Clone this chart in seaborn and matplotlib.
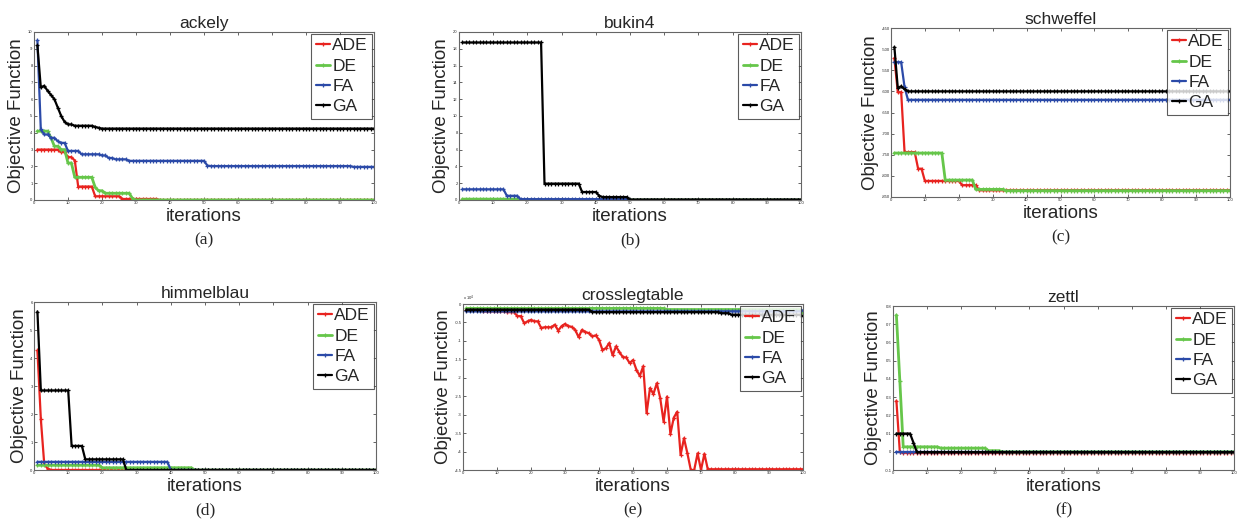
import matplotlib
matplotlib.use("Agg")
import matplotlib.pyplot as plt
import seaborn as sns
import pandas as pd

sns.set_theme(style="white")
plt.rcParams['font.family'] = ['Liberation Sans', 'DejaVu Sans']

iters = list(range(1, 101))
algos = ["ADE", "DE", "FA", "GA"]
colors = {"ADE": "#e8231f", "DE": "#66c64a", "FA": "#2b4aa8", "GA": "#000000"}
widths = {"ADE": 1.6, "DE": 2.0, "FA": 1.6, "GA": 1.6}

# each series given as (first iteration, value) pairs, value held until the next pair
ackely_ADE = [(1, 3.0), (8, 2.85), (10, 2.55), (12, 2.35), (13, 0.8), (18, 0.22), (26, 0.06), (37, 0.0)]
ackely_DE = [(1, 4.1), (5, 3.7), (6, 3.2), (8, 3.0), (10, 2.2), (12, 1.35), (18, 0.75), (19, 0.55),
             (21, 0.4), (29, 0.08), (30, 0.0)]
ackely_FA = [(1, 9.5), (2, 4.2), (3, 3.9), (5, 3.7), (7, 3.5), (8, 3.4), (10, 2.92), (14, 2.72),
             (20, 2.65), (22, 2.5), (24, 2.42), (28, 2.33), (51, 2.05), (52, 2.02), (94, 1.97)]
ackely_GA = [(1, 9.2), (2, 6.7), (3, 6.8), (4, 6.5), (5, 6.25), (6, 6.0), (7, 5.5), (8, 5.0), (9, 4.65),
             (10, 4.5), (12, 4.42), (18, 4.35), (19, 4.3), (20, 4.25)]

bukin4_ADE = [(1, 0.0)]
bukin4_DE = [(1, 0.1), (18, 0.0)]
bukin4_FA = [(1, 1.27), (14, 0.5), (18, 0.1), (50, 0.0)]
bukin4_GA = [(1, 18.75), (25, 1.95), (36, 0.95), (41, 0.5), (42, 0.35), (50, 0.05)]

schweffel_ADE = [(1, -521), (2, -602), (4, -744), (8, -783), (10, -812), (21, -822), (26, -834)]
schweffel_DE = [(1, -746), (16, -810), (25, -832), (34, -835)]
schweffel_FA = [(1, -531), (4, -590), (5, -620)]
schweffel_GA = [(1, -495), (2, -592), (3, -588), (4, -595), (5, -600)]

himmel_ADE = [(1, 4.27), (2, 1.82), (3, 0.2), (4, 0.05), (5, 0.0)]
himmel_DE = [(1, 0.17), (20, 0.08), (47, 0.0)]
himmel_FA = [(1, 0.29), (40, 0.0)]
himmel_GA = [(1, 5.66), (2, 2.84), (11, 0.86), (15, 0.38), (27, 0.0)]

# crosslegtable ADE, iterations 1..72 read point by point, then held
cross_ADE_pts = [-0.15, -0.15, -0.15, -0.15, -0.15, -0.2, -0.2, -0.2, -0.2, -0.2,
                 -0.2, -0.2, -0.22, -0.22, -0.22, -0.33, -0.33, -0.52, -0.47, -0.43,
                 -0.47, -0.47, -0.65, -0.63, -0.63, -0.63, -0.56, -0.72, -0.6, -0.54,
                 -0.6, -0.62, -0.7, -0.9, -0.7, -0.76, -0.79, -0.88, -0.85, -0.97,
                 -1.24, -1.2, -1.06, -1.39, -1.15, -1.3, -1.44, -1.45, -1.6, -1.52,
                 -1.78, -1.95, -1.69, -2.96, -2.28, -2.44, -2.15, -2.55, -3.19, -2.51,
                 -3.52, -3.08, -2.92, -4.09, -3.64, -4.05, -4.5, -4.5, -4.05, -4.5,
                 -4.06, -4.48]
cross_ADE = [(i + 1, v) for i, v in enumerate(cross_ADE_pts)]
cross_DE = [(1, -0.12), (60, -0.15), (100, -0.25)]
cross_FA = [(1, -0.2), (100, -0.17)]
cross_GA = [(1, -0.15), (38, -0.22), (76, -0.25), (79, -0.29), (100, -0.33)]

zettl_ADE = [(1, 0.28), (2, 0.0), (3, -0.004)]
zettl_DE = [(1, 0.75), (2, 0.39), (3, 0.027), (14, 0.02), (28, 0.006), (32, 0.0)]
zettl_FA = [(1, 0.0)]
zettl_GA = [(1, 0.1), (6, 0.05), (7, -0.002)]


def steps(segs):
    ends = [s for s, _ in segs][1:] + [101]
    out = []
    for (s, v), e in zip(segs, ends):
        out += [v] * (e - s)
    return out


panels = [
    ("ackely", "(a)", [ackely_ADE, ackely_DE, ackely_FA, ackely_GA], (0, 10), 1),
    ("bukin4", "(b)", [bukin4_ADE, bukin4_DE, bukin4_FA, bukin4_GA], (0, 20), 2),
    ("schweffel", "(c)", [schweffel_ADE, schweffel_DE, schweffel_FA, schweffel_GA], (-850, -450), 50),
    ("himmelblau", "(d)", [himmel_ADE, himmel_DE, himmel_FA, himmel_GA], (0, 6), 1),
    ("crosslegtable", "(e)", [cross_ADE, cross_DE, cross_FA, cross_GA], (-4.5, 0), 0.5),
    ("zettl", "(f)", [zettl_ADE, zettl_DE, zettl_FA, zettl_GA], (-0.1, 0.8), 0.1),
]

# axes boxes in pixels: left, top, right, bottom
boxes = [(34, 32, 374, 200), (459, 32, 801, 200), (891, 28, 1230, 197),
         (34, 302, 376, 470), (463, 304, 803, 470), (893, 306, 1234, 470)]

W, H = 1240, 523
fig = plt.figure(figsize=(12.4, 5.23), dpi=100)

for (title, cap, series, ylim, ystep), (l, t, r, b) in zip(panels, boxes):
    ax = fig.add_axes([l / W, 1 - b / H, (r - l) / W, (b - t) / H])
    for name, segs in zip(algos, series):
        df = pd.DataFrame({"iteration": iters, "value": steps(segs)})
        sns.lineplot(data=df, x="iteration", y="value", ax=ax, color=colors[name],
                     linewidth=widths[name], marker="+", markersize=3.5, markeredgewidth=0.9,
                     markeredgecolor=colors[name],
                     estimator=None, errorbar=None, label=name)
    ax.set_xlim(0, 100)
    ax.set_ylim(*ylim)
    ax.set_xticks(range(0, 101, 10))
    n = int(round((ylim[1] - ylim[0]) / ystep))
    ax.set_yticks([ylim[0] + i * ystep for i in range(n + 1)])
    ax.yaxis.set_major_formatter(matplotlib.ticker.FormatStrFormatter('%g'))
    ax.tick_params(direction="in", length=2, labelsize=3, pad=1, top=True, right=True,
                   bottom=True, left=True, width=0.5)
    for sp in ax.spines.values():
        sp.set_color("#666666")
        sp.set_linewidth(0.8)
    ax.set_title(title, fontsize=12.5, pad=3)
    ax.set_xlabel("iterations", fontsize=13.5, labelpad=2)
    ax.set_ylabel("Objective Function", fontsize=13.5, labelpad=2)
    leg = ax.legend(loc="upper right", fontsize=12.5, frameon=True, fancybox=False,
                    edgecolor="#333333", labelspacing=0.3, handlelength=0.8,
                    handletextpad=0.15, borderpad=0.25, borderaxespad=0.1)
    leg.get_frame().set_linewidth(0.8)
    if title == "crosslegtable":
        ax.text(0.0, 1.005, r"x 10$^4$", transform=ax.transAxes, fontsize=3, va="bottom")
    cx = (l + r) / 2 / W
    fig.text(cx, 1 - (b + 40) / H, cap, ha="center", va="center",
             fontsize=12.5, family="Liberation Serif")

fig.savefig("out.png", dpi=100, facecolor="white")
